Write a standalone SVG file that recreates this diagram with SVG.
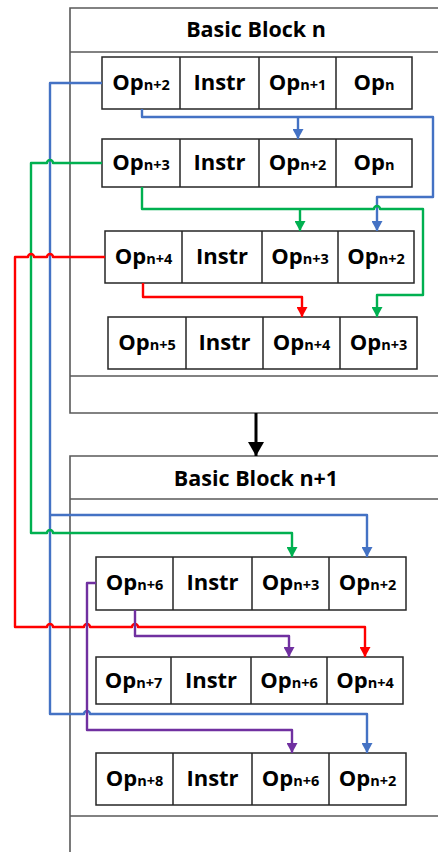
<svg xmlns="http://www.w3.org/2000/svg" width="438" height="852" viewBox="0 0 438 852">
<style>
.blk{fill:none;stroke:#595959;stroke-width:1.6}
.cell{fill:#fff;stroke:#262626;stroke-width:1.5}
.div{stroke:#262626;stroke-width:1.5}
.t{font-family:"Open Sans","Liberation Sans",sans-serif;font-weight:bold;font-size:22px;fill:#000;text-anchor:middle}
.s{font-size:14.5px}
.title{font-family:"Open Sans","Liberation Sans",sans-serif;font-weight:bold;font-size:21.5px;fill:#000;text-anchor:middle}
.c{fill:none;stroke-width:2.4;stroke-linejoin:round}
.b{stroke:#4472C4}.g{stroke:#00B050}.r{stroke:#FF0000}.p{stroke:#7030A0}
</style>
<defs>
<marker id="mb" markerUnits="userSpaceOnUse" markerWidth="11" markerHeight="11" viewBox="0 0 10 10" refX="9" refY="5" orient="auto"><path d="M0,0 L9,5 L0,10 Z" fill="#4472C4"/></marker>
<marker id="mg" markerUnits="userSpaceOnUse" markerWidth="11" markerHeight="11" viewBox="0 0 10 10" refX="9" refY="5" orient="auto"><path d="M0,0 L9,5 L0,10 Z" fill="#00B050"/></marker>
<marker id="mr" markerUnits="userSpaceOnUse" markerWidth="11" markerHeight="11" viewBox="0 0 10 10" refX="9" refY="5" orient="auto"><path d="M0,0 L9,5 L0,10 Z" fill="#FF0000"/></marker>
<marker id="mp" markerUnits="userSpaceOnUse" markerWidth="11" markerHeight="11" viewBox="0 0 10 10" refX="9" refY="5" orient="auto"><path d="M0,0 L9,5 L0,10 Z" fill="#7030A0"/></marker>
<marker id="mk" markerUnits="userSpaceOnUse" markerWidth="16" markerHeight="16" viewBox="0 0 16 16" refX="14" refY="8" orient="auto"><path d="M0,0 L14,8 L0,16 Z" fill="#000"/></marker>
</defs>

<g id="block-n">
<path class="blk" d="M445,8 H70 V413 H445 M70,52 H445 M70,376 H445"/>
<text class="title" x="256" y="37">Basic Block n</text>
</g>
<g id="block-n1">
<path class="blk" d="M445,456 H70 V852 M70,499 H445 M70,816 H445"/>
<text class="title" x="256" y="486">Basic Block n+1</text>
</g>

<g id="row1">
<rect class="cell" x="102" y="57" width="310" height="52"/>
<path class="div" d="M180,57V109M259,57V109M336,57V109"/>
<text class="t" x="141" y="90">Op<tspan class="s">n+2</tspan></text>
<text class="t" x="219.5" y="90">Instr</text>
<text class="t" x="297.5" y="90">Op<tspan class="s">n+1</tspan></text>
<text class="t" x="374" y="90">Op<tspan class="s">n</tspan></text>
</g>
<g id="row2">
<rect class="cell" x="102" y="139" width="310" height="48"/>
<path class="div" d="M180,139V187M259,139V187M336,139V187"/>
<text class="t" x="141" y="170">Op<tspan class="s">n+3</tspan></text>
<text class="t" x="219.5" y="170">Instr</text>
<text class="t" x="297.5" y="170">Op<tspan class="s">n+2</tspan></text>
<text class="t" x="374" y="170">Op<tspan class="s">n</tspan></text>
</g>
<g id="row3">
<rect class="cell" x="105" y="231" width="309" height="52"/>
<path class="div" d="M182,231V283M262,231V283M338,231V283"/>
<text class="t" x="143.5" y="264">Op<tspan class="s">n+4</tspan></text>
<text class="t" x="222" y="264">Instr</text>
<text class="t" x="300" y="264">Op<tspan class="s">n+3</tspan></text>
<text class="t" x="376" y="264">Op<tspan class="s">n+2</tspan></text>
</g>
<g id="row4">
<rect class="cell" x="108" y="317" width="309" height="52"/>
<path class="div" d="M186,317V369M263,317V369M340,317V369"/>
<text class="t" x="147" y="350">Op<tspan class="s">n+5</tspan></text>
<text class="t" x="224.5" y="350">Instr</text>
<text class="t" x="301.5" y="350">Op<tspan class="s">n+4</tspan></text>
<text class="t" x="378.5" y="350">Op<tspan class="s">n+3</tspan></text>
</g>
<g id="row5">
<rect class="cell" x="96" y="557" width="310" height="53"/>
<path class="div" d="M173,557V610M252,557V610M329,557V610"/>
<text class="t" x="134.5" y="590">Op<tspan class="s">n+6</tspan></text>
<text class="t" x="212.5" y="590">Instr</text>
<text class="t" x="290.5" y="590">Op<tspan class="s">n+3</tspan></text>
<text class="t" x="367.5" y="590">Op<tspan class="s">n+2</tspan></text>
</g>
<g id="row6">
<rect class="cell" x="96" y="657" width="307" height="47"/>
<path class="div" d="M171,657V704M251,657V704M327,657V704"/>
<text class="t" x="133.5" y="688">Op<tspan class="s">n+7</tspan></text>
<text class="t" x="211" y="688">Instr</text>
<text class="t" x="289" y="688">Op<tspan class="s">n+6</tspan></text>
<text class="t" x="365" y="688">Op<tspan class="s">n+4</tspan></text>
</g>
<g id="row7">
<rect class="cell" x="96" y="753" width="310" height="52"/>
<path class="div" d="M173,753V805M252,753V805M329,753V805"/>
<text class="t" x="134.5" y="786">Op<tspan class="s">n+8</tspan></text>
<text class="t" x="212.5" y="786">Instr</text>
<text class="t" x="290.5" y="786">Op<tspan class="s">n+6</tspan></text>
<text class="t" x="367.5" y="786">Op<tspan class="s">n+2</tspan></text>
</g>

<g id="connectors">
<path d="M256,413 V456" stroke="#000" stroke-width="3" fill="none" marker-end="url(#mk)"/>
<path class="c b" d="M102,83 H50 V714 H84 a3,3 0 0 1 6,0 H367 V753" marker-end="url(#mb)"/>
<path class="c b" d="M50,515 H367 V557" marker-end="url(#mb)"/>
<path class="c b" d="M142,109 V117 H433 V197 H377 V231" marker-end="url(#mb)"/>
<path class="c b" d="M298,117 V139" marker-end="url(#mb)"/>
<path class="c g" d="M102,163 H53 a3,3 0 0 0 -6,0 H31 V533 H47 a3,3 0 0 1 6,0 H292 V557" marker-end="url(#mg)"/>
<path class="c g" d="M142,187 V209 H374 a3,3 0 0 1 6,0 H423 V295 H377 V317" marker-end="url(#mg)"/>
<path class="c g" d="M300,209 V231" marker-end="url(#mg)"/>
<path class="c r" d="M105,257 H53 a3,3 0 0 0 -6,0 H34 a3,3 0 0 0 -6,0 H15 V627 H47 a3,3 0 0 1 6,0 H84 a3,3 0 0 1 6,0 H132 a3,3 0 0 1 6,0 H365 V657" marker-end="url(#mr)"/>
<path class="c r" d="M143,283 V297 H302 V317" marker-end="url(#mr)"/>
<path class="c p" d="M96,583 H87 V730 H292 V753" marker-end="url(#mp)"/>
<path class="c p" d="M135,610 V636 H289 V657" marker-end="url(#mp)"/>
</g>
</svg>
